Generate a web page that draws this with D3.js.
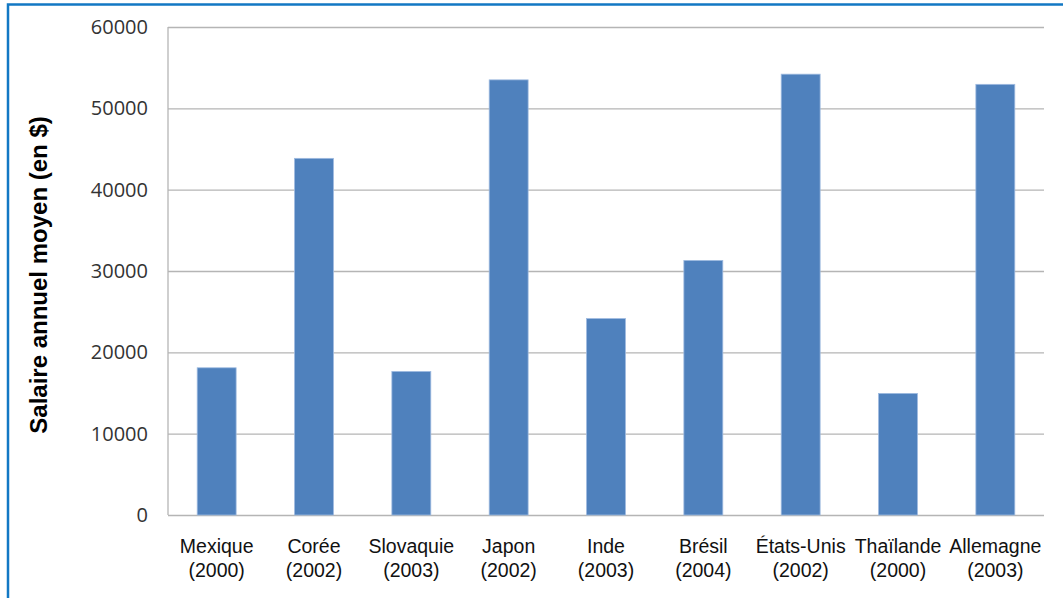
<!DOCTYPE html>
<html>
<head>
<meta charset="utf-8">
<script src="https://cdn.jsdelivr.net/npm/d3@7"></script>
<style>
  body { margin: 0; background: #fff; }
  .tick line { stroke: #b5b5b5; }
  .domain { stroke: none; }
</style>
</head>
<body>
<script>
// valeurs
const pays = ['Mexique', 'Corée', 'Slovaquie', 'Japon', 'Inde', 'Brésil', 'États-Unis', 'Thaïlande', 'Allemagne']
const annees = ['(2000)', '(2002)', '(2003)', '(2002)', '(2003)', '(2004)', '(2002)', '(2000)', '(2003)']
const salaires = [18100, 43850, 17650, 53500, 24150, 31300, 54200, 14950, 52950]
const yTicks = [0, 10000, 20000, 30000, 40000, 50000, 60000]

const W = 1063, H = 598
const plotLeft = 168, plotRight = 1044, plotTop = 27, plotBottom = 515

const svg = d3.select('body').append('svg').attr('width', W).attr('height', H)

// cadre bleu
svg.append('path')
  .attr('d', `M8,${H} L8,4.5 L${W},4.5`)
  .attr('fill', 'none').attr('stroke', '#1278c4').attr('stroke-width', 2.5)

var x = d3.scaleBand().domain(d3.range(pays.length)).range([plotLeft, plotRight]).paddingInner(0.6).paddingOuter(0.3)
var y = d3.scaleLinear().domain([0, 60000]).range([plotBottom, plotTop])

// grille
var grid = d3.axisRight(y).tickValues(yTicks).tickSize(plotRight - plotLeft).tickFormat('')
svg.append('g').attr('transform', `translate(${plotLeft},0)`).call(grid)
  .selectAll('.tick line').attr('stroke', '#b5b5b5').attr('stroke-width', 1.3)

// axes
svg.append('line').attr('x1', plotLeft).attr('x2', plotLeft).attr('y1', plotTop).attr('y2', plotBottom)
  .attr('stroke', '#b5b5b5').attr('stroke-width', 1.3)

var axisY = d3.axisLeft(y).tickValues(yTicks).tickSize(0).tickPadding(20).tickFormat(d => d)
svg.append('g').attr('transform', `translate(${plotLeft},0)`).call(axisY)
  .selectAll('text')
  .attr('font-family', 'Open Sans, sans-serif').attr('font-size', 20).attr('fill', '#333')

// barres
svg.append('g')
  .selectAll('rect')
  .data(salaires)
  .enter()
  .append('rect')
  .attr('x', (d, i) => x(i))
  .attr('y', d => y(d))
  .attr('width', x.bandwidth())
  .attr('height', d => y(0) - y(d))
  .attr('fill', '#4f81bd')
  .attr('stroke', '#9fbbe0')
  .attr('stroke-width', 0.8)

// étiquettes des catégories
var lab = svg.append('g').selectAll('text')
  .data(pays)
  .enter()
  .append('text')
  .attr('text-anchor', 'middle')
  .attr('font-family', 'Liberation Sans, Arial, sans-serif')
  .attr('font-size', 19.5)
  .attr('fill', '#111')
lab.append('tspan').attr('x', (d, i) => x(i) + x.bandwidth() / 2).attr('y', 553).text(d => d)
lab.append('tspan').attr('x', (d, i) => x(i) + x.bandwidth() / 2).attr('y', 577).text((d, i) => annees[i])

// titre de l'axe
svg.append('text')
  .attr('transform', 'translate(47,275) rotate(-90)')
  .attr('text-anchor', 'middle')
  .attr('font-family', 'Liberation Sans, Arial, sans-serif')
  .attr('font-weight', 'bold')
  .attr('font-size', 24)
  .attr('fill', '#000')
  .text('Salaire annuel moyen (en $)')
</script>
</body>
</html>
